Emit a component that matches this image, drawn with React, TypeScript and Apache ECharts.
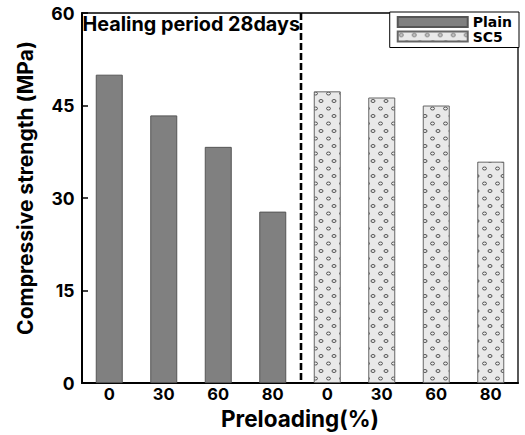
import React, { useEffect, useRef } from "react";
import * as echarts from "echarts";

const categories = ["0", "30", "60", "80", "0", "30", "60", "80"];
const plainValues = [50, 43.4, 38.3, 27.8, null, null, null, null];
const sc5Values = [null, null, null, null, 47.3, 46.3, 45, 35.9];
const yTicks = { min: 0, max: 60, interval: 15 };
const titleText = "Healing period 28days";

function makePattern(): HTMLCanvasElement {
  const c = document.createElement("canvas");
  c.width = 13;
  c.height = 15;
  const ctx = c.getContext("2d")!;
  ctx.fillStyle = "#e9e9e9";
  ctx.fillRect(0, 0, 13, 15);
  ctx.strokeStyle = "#444";
  ctx.lineWidth = 0.9;
  const pts = [
    [3.5, 3.5],
    [9, 11],
  ];
  for (const [x, y] of pts) {
    ctx.beginPath();
    ctx.ellipse(x, y, 2, 1.5, 0, 0, Math.PI * 2);
    ctx.stroke();
  }
  return c;
}

export default function App() {
  const ref = useRef<HTMLDivElement>(null);
  useEffect(() => {
    if (!ref.current) return;
    const chart = echarts.init(ref.current, null, { renderer: "svg" });
    const font = "Inter, 'Liberation Sans', Arial, sans-serif";
    const legendFont = "'DejaVu Sans', sans-serif";
    const pattern = makePattern();
    chart.setOption({
      animation: false,
      backgroundColor: "#fff",
      grid: {
        left: 82,
        right: 7,
        top: 13,
        bottom: 48,
        show: true,
        borderColor: "#000",
        borderWidth: 1.3,
        backgroundColor: "transparent",
      },
      legend: {
        orient: "vertical",
        right: 6,
        top: 12,
        padding: [3, 7, 4, 7],
        itemGap: 0.5,
        itemWidth: 70,
        itemHeight: 10,
        borderColor: "#000",
        borderWidth: 1,
        backgroundColor: "#fff",
        icon: "rect",
        textStyle: { fontFamily: legendFont, fontWeight: "bold", fontSize: 14, color: "#000" },
        data: ["Plain", "SC5"],
      },
      xAxis: {
        type: "category",
        data: categories,
        name: "Preloading(%)",
        nameLocation: "middle",
        nameGap: 32,
        nameTextStyle: { fontFamily: font, fontWeight: "bold", fontSize: 22.5, color: "#000", verticalAlign: "middle" },
        axisLine: { lineStyle: { color: "#000", width: 2 } },
        axisTick: { show: false },
        axisLabel: { fontFamily: font, fontWeight: "bold", fontSize: 16.5, color: "#000", margin: 10.5, verticalAlign: "middle" },
      },
      yAxis: {
        type: "value",
        min: yTicks.min,
        max: yTicks.max,
        interval: yTicks.interval,
        name: "Compressive strength (MPa)",
        nameLocation: "middle",
        nameGap: 57,
        nameTextStyle: {
          fontFamily: font,
          fontWeight: "bold",
          fontSize: 21,
          color: "#000",
          verticalAlign: "middle",
          padding: [0, 0, 0, 20],
        },
        axisLine: { show: true, lineStyle: { color: "#000", width: 2 } },
        axisTick: { show: true, inside: true, length: 6, lineStyle: { color: "#000", width: 1.5 } },
        axisLabel: { fontFamily: font, fontWeight: "bold", fontSize: 17.5, color: "#000", margin: 7.5 },
        splitLine: { show: false },
      },
      series: [
        {
          name: "Plain",
          type: "bar",
          data: plainValues,
          barWidth: 27,
          barGap: "-100%",
          itemStyle: { color: "#808080", borderColor: "#555", borderWidth: 1 },
        },
        {
          name: "SC5",
          type: "bar",
          data: sc5Values,
          barWidth: 27,
          itemStyle: { color: { image: pattern, repeat: "repeat" }, borderColor: "#666", borderWidth: 1 },
        },
      ],
    });
    const x3 = chart.convertToPixel({ xAxisIndex: 0 }, 3) as number;
    const x4 = chart.convertToPixel({ xAxisIndex: 0 }, 4) as number;
    const yTop = chart.convertToPixel({ yAxisIndex: 0 }, yTicks.max) as number;
    const yBot = chart.convertToPixel({ yAxisIndex: 0 }, yTicks.min) as number;
    const xm = (x3 + x4) / 2 + 1;
    const x0 = chart.convertToPixel({ xAxisIndex: 0 }, 0) as number;
    const band = x4 - x3;
    chart.setOption({
      graphic: [
        {
          type: "line",
          shape: { x1: xm, y1: yTop, x2: xm, y2: yBot },
          style: { stroke: "#000", lineWidth: 2.6, lineDash: [7, 3] },
          z: 10,
        },
        {
          type: "text",
          x: x0 - band / 2 + 0.5,
          y: yTop + 11.2,
          style: {
            text: titleText,
            fontFamily: font,
            fontWeight: "bold",
            fontSize: 19.8,
            fill: "#000",
            verticalAlign: "middle",
          },
          z: 10,
        },
      ],
    });
    return () => chart.dispose();
  }, []);
  return <div ref={ref} style={{ width: 525, height: 435, position: "absolute", left: 0, top: 0 }} />;
}
